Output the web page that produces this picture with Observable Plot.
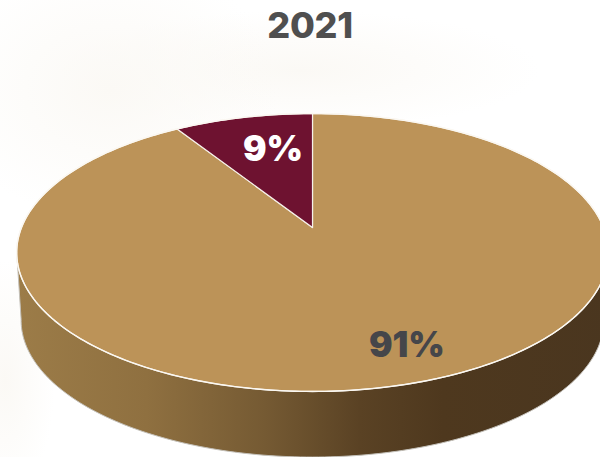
<!DOCTYPE html>
<html>
<head>
<meta charset="utf-8">
<script src="https://cdn.jsdelivr.net/npm/d3@7"></script>
<script src="https://cdn.jsdelivr.net/npm/@observablehq/plot@0.6"></script>
<style>
html,body{margin:0;padding:0;width:600px;height:457px;overflow:hidden;background:#fff}
body{background:
 radial-gradient(ellipse 170px 130px at 110px 90px,#fbf9f5 0%,rgba(251,249,245,0) 100%),
 radial-gradient(ellipse 240px 60px at 300px 70px,#fbf9f5 0%,rgba(251,249,245,0) 100%),
 radial-gradient(ellipse 50px 120px at 5px 380px,#fbf9f5 0%,rgba(251,249,245,0) 100%),
 #fff}
#title{height:50px;text-align:center;font:800 36px/50px Inter,sans-serif;color:#4f4f4f;padding-left:20px;box-sizing:border-box;letter-spacing:-.3px}
#chart svg{display:block;background:transparent}
</style>
</head>
<body>
<div id="title">2021</div>
<div id="chart"></div>
<script>
const year = "2021";
const categories = ["Mayor", "Menor"];
const shares = [91, 9];
const shareLabels = ["91%", "9%"];
const sliceColors = ["#bc9358", "#6e1230"];
const labelColors = ["#45464a", "#ffffff"];

// Tilted-disc projection: a unit circle seen in perspective, in disc radii.
const k = 0.18, squash = 0.462, depth = 0.234, shrink = 0.985;
const project = (a, r = 1, lower = false) => {
  const u = r * Math.sin(a), v = -r * Math.cos(a), s = 1 / (1 - k * v);
  const X = u * s, Y = squash * v * s;
  return lower ? {X: X * shrink, Y: Y * shrink + depth} : {X, Y};
};
const rad = d => d * Math.PI / 180;
const arcs = d3.pie().sort(null).value(d => d)(shares);
const slices = arcs.map((p, i) => {
  const n = Math.ceil((p.endAngle - p.startAngle) / rad(1));
  const pts = [{X: 0, Y: 0}];
  for (let j = 0; j <= n; ++j) pts.push(project(p.startAngle + (p.endAngle - p.startAngle) * j / n));
  pts.push({X: 0, Y: 0});
  return pts;
});
const sweep = d3.range(100, 260.5, 1).map(rad);
const side = [...sweep.map(a => project(a)), ...sweep.slice().reverse().map(a => project(a, 1, true))];
side.push(side[0]);
const rimLower = [project(sweep[0]), ...sweep.map(a => project(a, 1, true)), project(sweep[sweep.length - 1])];
const rimTop = d3.range(0, 361, 1).map(d => project(rad(d)));

const labelRadius = [0.8, 0.65];
const labelShift = [19, 8];
const labels = arcs.map((p, i) => ({
  ...project((p.startAngle + p.endAngle) / 2, labelRadius[i]),
  text: shareLabels[i], color: labelColors[i], shift: labelShift[i]
}));

const pxPerUnit = 291, centerX = 312, plotHeight = 407, plotTop = 50, apexY = 227;
const chart = Plot.plot({
  width: 600, height: plotHeight,
  margin: 0,
  x: {domain: [-centerX / pxPerUnit, (600 - centerX) / pxPerUnit], axis: null},
  y: {domain: [(plotTop - apexY) / pxPerUnit, (457 - apexY) / pxPerUnit], range: [0, plotHeight], axis: null},
  style: {background: "transparent", overflow: "hidden"},
  marks: [
    () => {
      const ns = "http://www.w3.org/2000/svg";
      const defs = document.createElementNS(ns, "defs");
      const g = document.createElementNS(ns, "linearGradient");
      g.setAttribute("id", "sideShade");
      [[0, "#9c7c48"], [0.22, "#8f7040"], [0.42, "#755a33"], [0.58, "#5a4224"], [0.72, "#4e381e"], [1, "#4a361f"]].forEach(([o, c]) => {
        const s = document.createElementNS(ns, "stop");
        s.setAttribute("offset", o); s.setAttribute("stop-color", c); g.appendChild(s);
      });
      defs.appendChild(g);
      return defs;
    },
    Plot.line(side, {x: "X", y: "Y", fill: "url(#sideShade)", stroke: "none", curve: "linear"}),
    Plot.line(rimLower, {x: "X", y: "Y", stroke: "#c4c1ba", strokeWidth: 1, curve: "linear"}),
    ...slices.map((pts, i) => Plot.line(pts, {x: "X", y: "Y", fill: sliceColors[i], stroke: "#f6f1ea", strokeWidth: 1.2, curve: "linear", strokeLinejoin: "round"})),
    Plot.line(rimTop, {x: "X", y: "Y", stroke: "#fbf8f2", strokeWidth: 1.4, curve: "linear"}),
    ...labels.map(l => Plot.text([l], {x: "X", y: "Y", dx: l.shift, dy: -2, text: "text", fill: "color", fontSize: 35, fontWeight: 900, fontFamily: "Inter, sans-serif", textAnchor: "middle", lineAnchor: "middle"}))
  ]
});
document.getElementById("chart").appendChild(chart);
</script>
</body>
</html>
